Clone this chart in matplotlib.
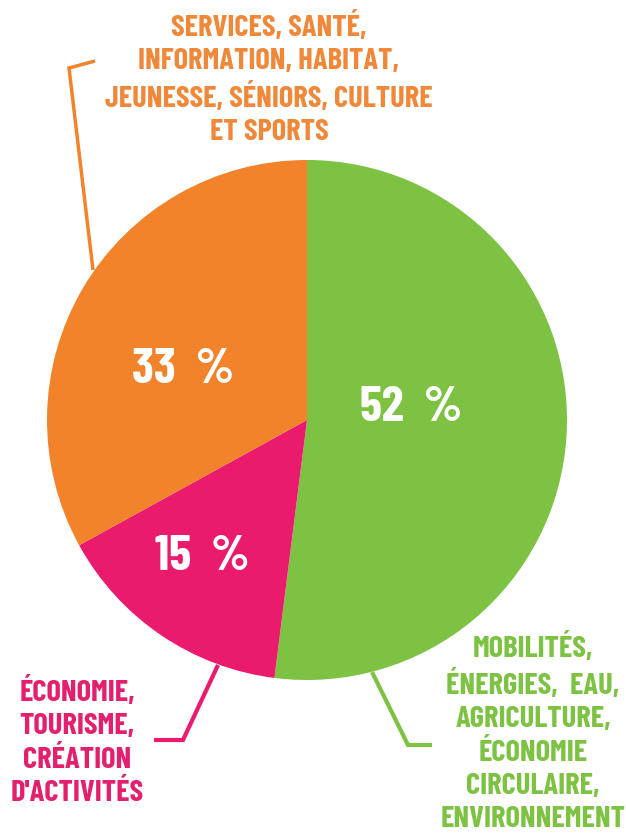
import matplotlib.pyplot as plt

W, H = 626, 836

shares = [52, 15, 33]
labels = [
    "MOBILITÉS,\nÉNERGIES,  EAU,\nAGRICULTURE,\nÉCONOMIE\nCIRCULAIRE,\nENVIRONNEMENT",
    "ÉCONOMIE,\nTOURISME,\nCRÉATION\nD'ACTIVITÉS",
    "SERVICES, SANTÉ,\nINFORMATION, HABITAT,\nJEUNESSE, SÉNIORS, CULTURE\nET SPORTS",
]
colors = ["#7dc242", "#ea1a6d", "#f2832b"]
text_colors = ["#7dc242", "#e2206e", "#f0883a"]

FONT = ["Barlow Condensed", "Roboto Condensed", "DejaVu Sans"]

fig = plt.figure(figsize=(W / 100, H / 100), dpi=100)
ax = fig.add_axes([0, 0, 1, 1])

# y axis runs downwards, so start at -90 and go counterclockwise to sweep
# clockwise from the top on screen
ax.pie(shares, colors=colors, startangle=-90, counterclock=True,
       center=(307, 420), radius=260, wedgeprops=dict(linewidth=0))
ax.set_xlim(0, W)
ax.set_ylim(H, 0)
ax.set_aspect("equal")
ax.axis("off")

# percentages inside the slices
pct_pos = [(411, 408), (202, 557), (183, 370)]
for v, (x, y) in zip(shares, pct_pos):
    ax.text(x, y, f"{v}  %", color="white", fontsize=36, fontweight="bold",
            family=FONT, ha="center", va="center")

# category captions
cap_pos = [(533, 733), (77, 742), (269, 79)]
for lab, (x, y), c in zip(labels, cap_pos, text_colors):
    ax.text(x, y, lab, color=c, fontsize=22, fontweight="bold",
            family=FONT, ha="center", va="center", linespacing=1.3)

# leader lines
ax.plot([372, 408, 432], [672, 745, 745], color=colors[0], lw=3,
        solid_joinstyle="miter", solid_capstyle="butt")
ax.plot([218, 183, 154], [665, 740, 740], color=colors[1], lw=3,
        solid_joinstyle="miter", solid_capstyle="butt")
ax.plot([95, 69, 93], [61, 68, 270], color=colors[2], lw=2.5,
        solid_joinstyle="miter", solid_capstyle="butt")

fig.savefig("out.png", dpi=100, facecolor="white")
